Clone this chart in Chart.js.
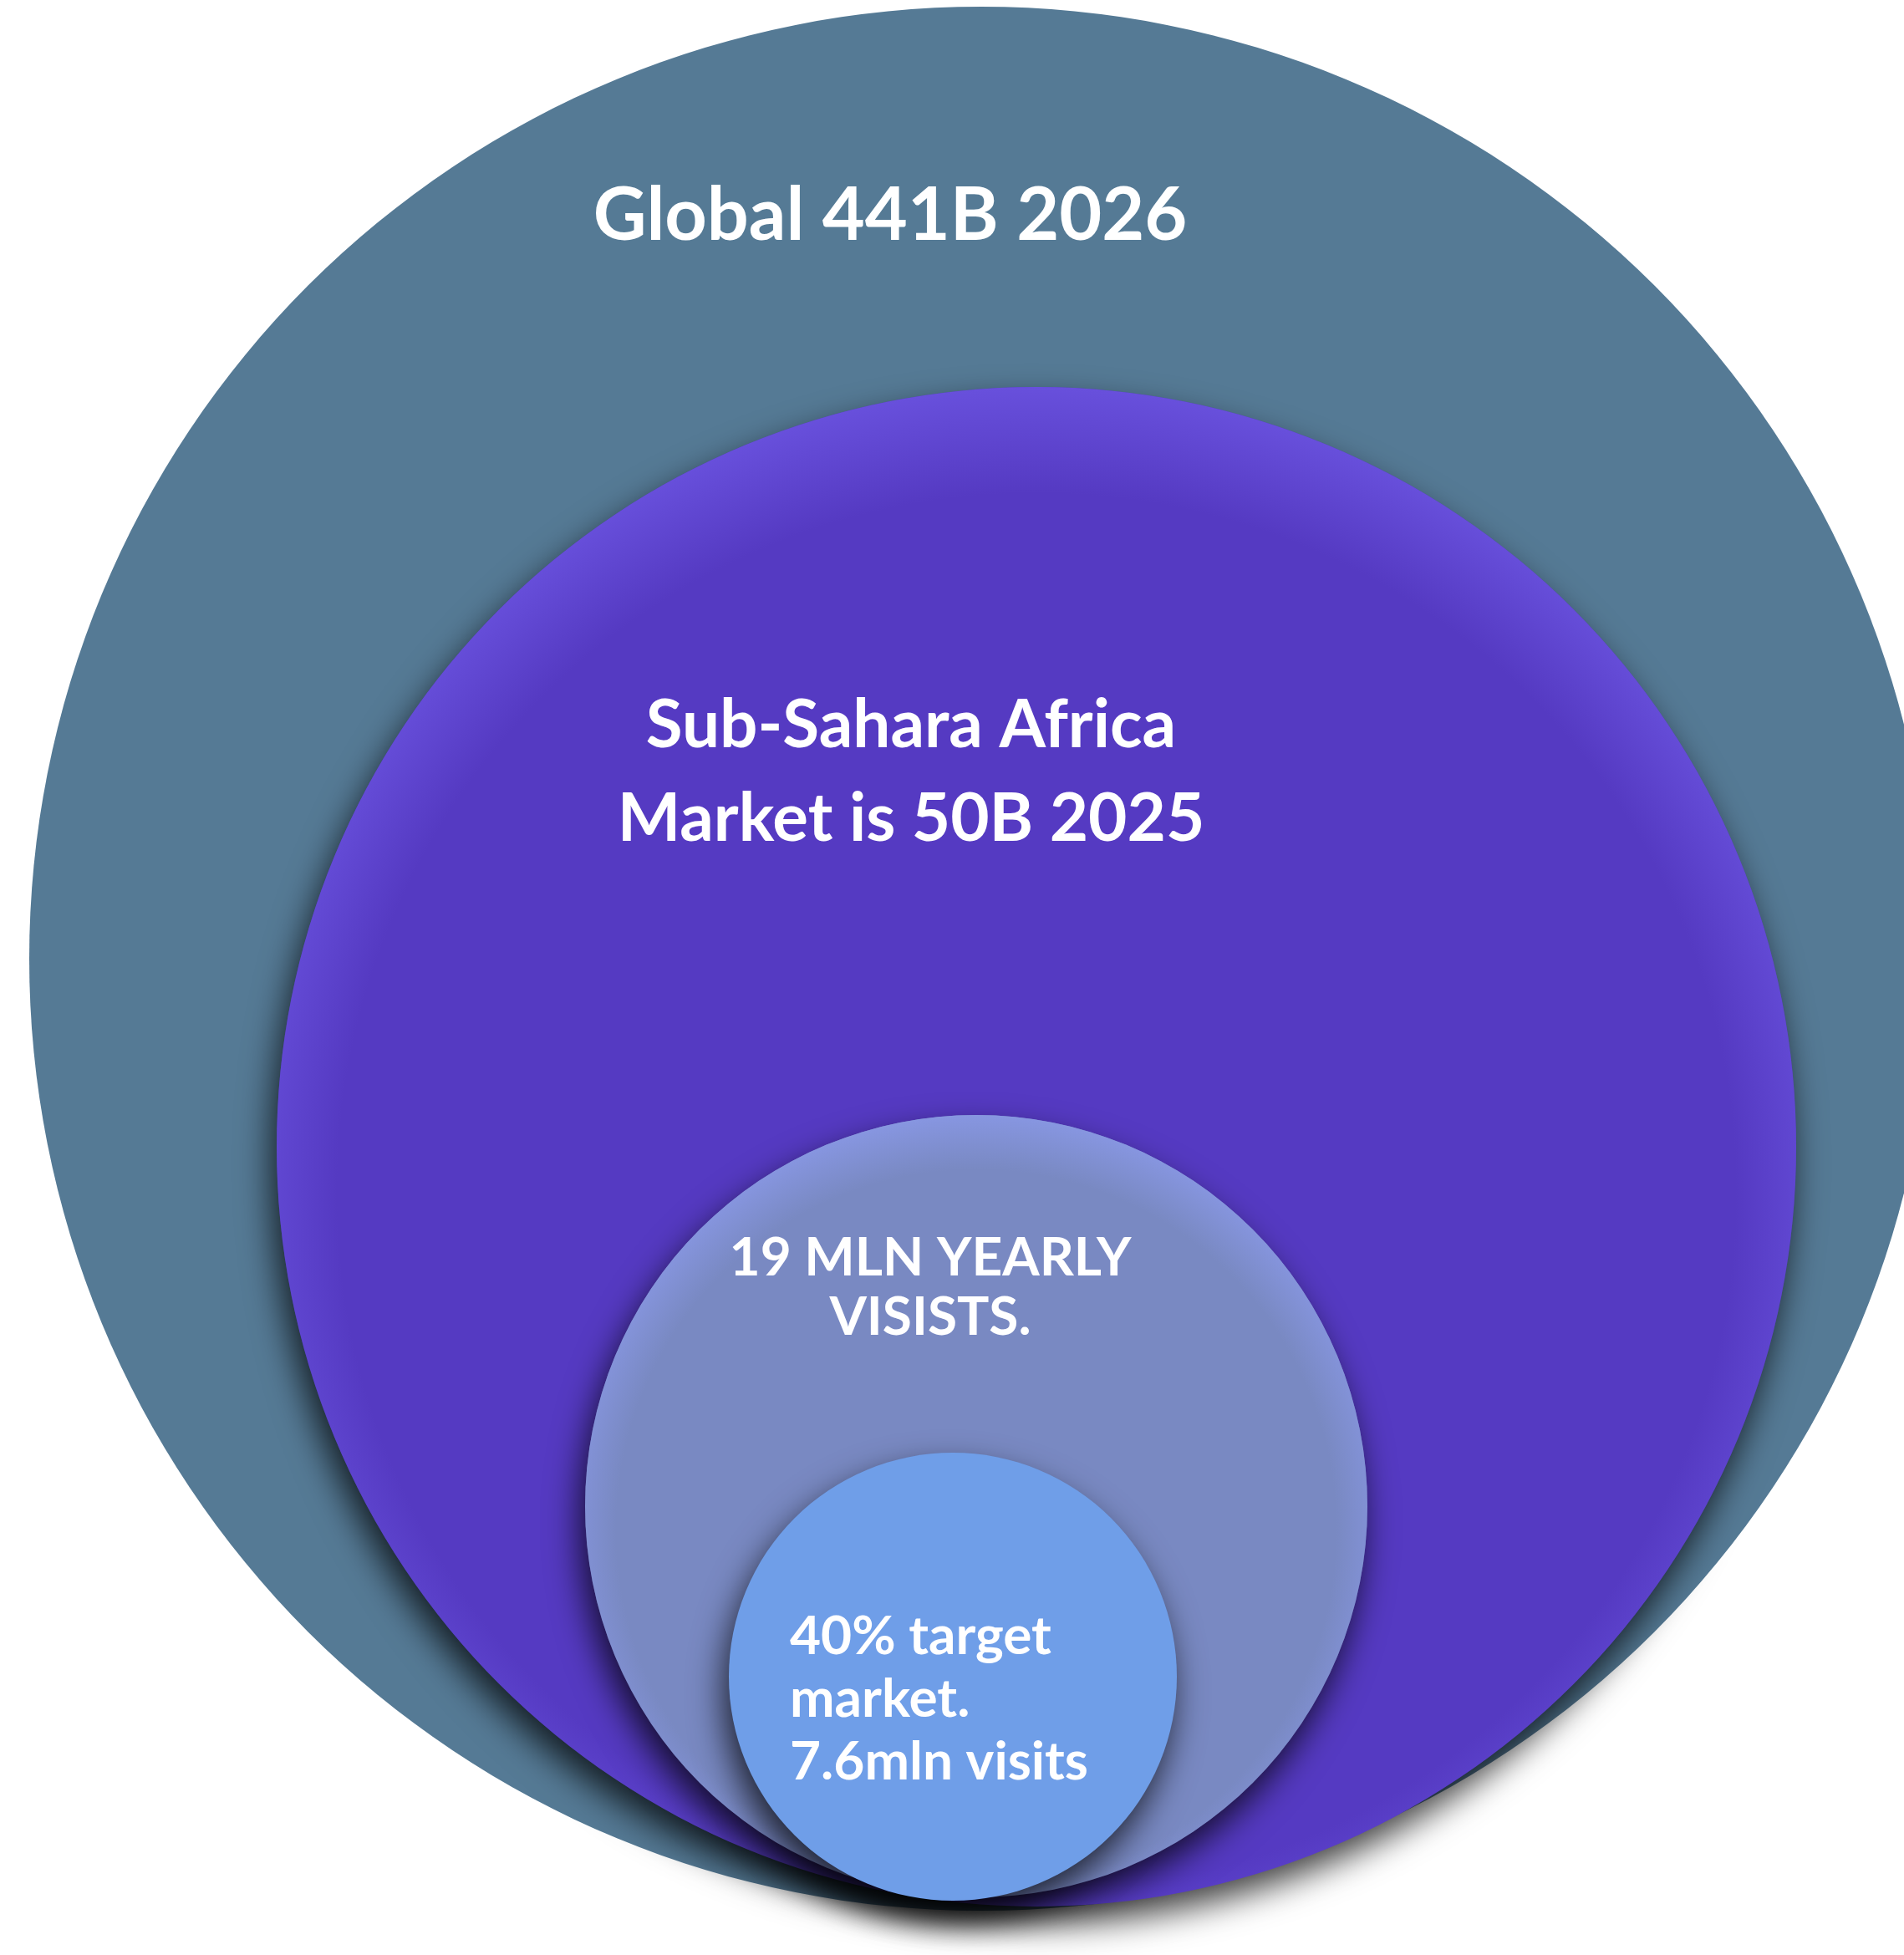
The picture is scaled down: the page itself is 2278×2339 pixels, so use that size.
<!DOCTYPE html>
<html>
<head>
<meta charset="utf-8">
<script src="https://cdn.jsdelivr.net/npm/chart.js@4"></script>
<style>
  html, body { margin: 0; padding: 0; background: #ffffff; }
  #wrap { width: 2278px; height: 2339px; position: relative; }
</style>
</head>
<body>
<div id="wrap"><canvas id="myChart"></canvas></div>
<script>
// circles, outermost first (axis units match the page: 2278 x 2339)
const circleNames = ["Global", "Sub-Sahara Africa", "Yearly visits", "Target market"];
const centerX = [1174, 1240, 1168, 1140];
const centerY = [1147, 1372, 1802, 2006];
const radiusValues = [1139, 909, 468, 268];

// text shown in each circle
const labelLines = [
  ["Global 441B 2026"],
  ["Sub-Sahara Africa", "Market is 50B 2025"],
  ["19 MLN YEARLY", "VISISTS."],
  ["40% target", "market.", "7.6mln visits"],
];

const fills = ["#557A95", "#553AC2", "#7989C2", "#6F9EE8"];
const rims = [null, [104, 80, 220], [135, 150, 225], null];
const hasShadow = [false, true, true, true];

const textStyle = [
  { x: 1065, y: 287, gap: 0, size: 88, align: "center" },
  { x: 1090, y: 894, gap: 112, size: 80, align: "center" },
  { x: 1113, y: 1526, gap: 71, size: 64, align: "center" },
  { x: 945, y: 1979, gap: 75, size: 64, align: "left" },
];

const circlePlugin = {
  id: "circleLook",
  beforeDatasetDraw(chart, args) {
    const ctx = chart.ctx;
    ctx.save();
    if (hasShadow[args.index]) {
      ctx.shadowColor = "rgba(0, 0, 0, 0.75)";
      ctx.shadowBlur = 40;
      ctx.shadowOffsetX = -6;
      ctx.shadowOffsetY = 20;
    }
  },
  afterDatasetDraw(chart, args) {
    const ctx = chart.ctx;
    ctx.restore();
    const rim = rims[args.index];
    const el = args.meta.data[0];
    if (!rim || !el) return;
    const r = el.options.radius;
    if (!isFinite(r) || !isFinite(el.x) || !isFinite(el.y)) return;
    // light bevel along the top edge
    const oy = r * 0.06;
    const g = ctx.createRadialGradient(el.x, el.y + oy, r * 0.92, el.x, el.y + oy, r + oy);
    g.addColorStop(0, `rgba(${rim.join(",")},0)`);
    g.addColorStop(1, `rgba(${rim.join(",")},1)`);
    ctx.save();
    ctx.beginPath();
    ctx.arc(el.x, el.y, r, 0, Math.PI * 2);
    ctx.clip();
    ctx.fillStyle = g;
    ctx.fillRect(el.x - r, el.y - r, r * 2, r * 2);
    ctx.restore();
  },
  afterDatasetsDraw(chart) {
    const ctx = chart.ctx;
    ctx.save();
    ctx.fillStyle = "#ffffff";
    ctx.textBaseline = "alphabetic";
    labelLines.forEach((lines, i) => {
      const t = textStyle[i];
      ctx.font = `bold ${t.size}px Lato`;
      ctx.textAlign = t.align;
      lines.forEach((line, j) => ctx.fillText(line, t.x, t.y + j * t.gap));
    });
    ctx.restore();
  },
};

const datasets = circleNames.map((name, i) => ({
  label: name,
  data: [{ x: centerX[i], y: centerY[i], r: radiusValues[i] }],
  backgroundColor: fills[i],
  borderWidth: 0,
  order: circleNames.length - i,
  clip: false,
}));

new Chart(document.getElementById("myChart"), {
  type: "bubble",
  data: { datasets },
  options: {
    responsive: true,
    maintainAspectRatio: false,
    animation: false,
    events: [],
    layout: { padding: 0, autoPadding: false },
    plugins: { legend: { display: false }, tooltip: { enabled: false } },
    scales: {
      x: { type: "linear", min: 0, max: 2278, display: false },
      y: { type: "linear", min: 0, max: 2339, reverse: true, display: false },
    },
  },
  plugins: [circlePlugin],
});
</script>
</body>
</html>
